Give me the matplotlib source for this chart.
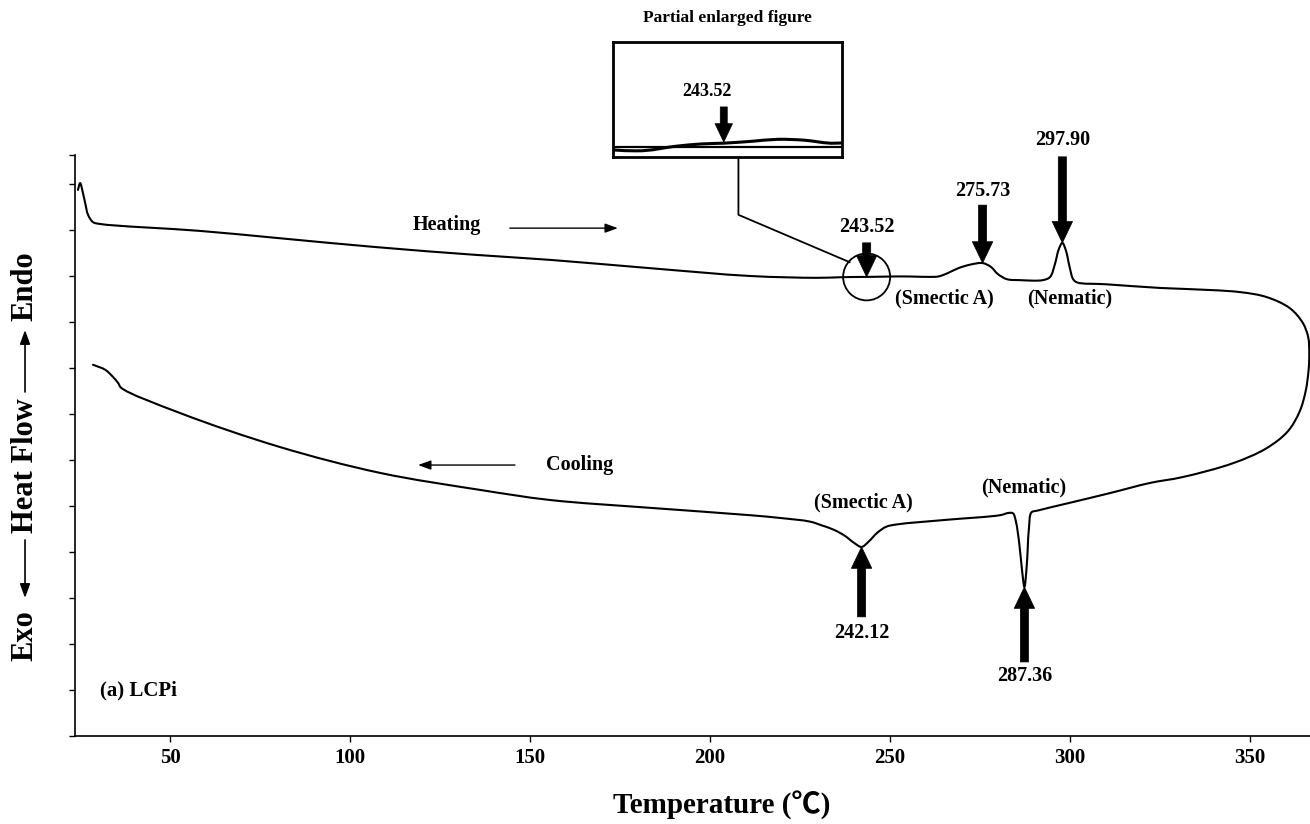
import numpy as np
import matplotlib
matplotlib.use("Agg")
import matplotlib.pyplot as plt
from matplotlib.patches import Ellipse, PathPatch
from matplotlib.path import Path

plt.rcParams['font.family'] = ['Liberation Serif', 'Noto Sans CJK SC', 'DejaVu Serif']
plt.rcParams['font.weight'] = 'bold'

# ---- DSC trace of LCPi (temperature in degC, heat flow in arbitrary units) ----
heat_T = [24.4, 25.0, 25.8, 26.4, 27.2, 28.6, 30.6, 58.3, 79.2, 106.9, 134.7,
          155.6, 183.3, 211.1, 229.7, 236.0, 240.0, 243.52, 248.0, 252.0, 256.0,
          261.0, 263.5, 266.0, 269.0, 272.5, 275.73, 278.0, 280.0, 282.5, 286.0,
          292.5, 294.5, 295.8, 296.9, 297.9, 298.9, 299.9, 300.9, 302.0, 310.0,
          325.0, 331.4, 347.2, 354.7, 361.1, 364.7, 366.2, 366.5]
heat_hf = [11.87, 12.02, 11.80, 11.59, 11.33, 11.17, 11.13, 10.98, 10.83, 10.63, 10.46,
           10.35, 10.17, 10.00, 9.96, 9.972, 9.978, 9.980, 9.985, 9.990, 9.988,
           9.98, 9.99, 10.06, 10.17, 10.25, 10.28, 10.20, 10.04, 9.93, 9.91,
           9.91, 9.98, 10.25, 10.58, 10.72, 10.55, 10.20, 9.93, 9.86, 9.82,
           9.74, 9.72, 9.65, 9.54, 9.30, 8.98, 8.67, 8.33]

cool_T = [366.5, 366.3, 365.5, 363.8, 360.5, 354.5, 345.3, 331.4, 322.2, 311.1,
          300.0, 291.0, 289.3, 288.6, 288.0, 287.36, 286.7, 285.9, 285.0, 284.2,
          283.0, 280.6, 265.8, 252.0, 249.0, 246.5, 244.0, 242.12, 240.0, 237.5,
          234.5, 231.0, 227.8, 219.4, 211.1, 183.3, 155.6, 136.1, 108.3, 80.6,
          52.8, 36.4, 35.6, 34.2, 32.0, 28.6]
cool_hf = [8.33, 7.95, 7.50, 7.05, 6.62, 6.25, 5.93, 5.63, 5.50, 5.28,
           5.07, 4.90, 4.86, 4.50, 3.70, 3.24, 3.60, 4.20, 4.66, 4.84,
           4.85, 4.80, 4.70, 4.60, 4.55, 4.42, 4.22, 4.11, 4.20, 4.35,
           4.48, 4.58, 4.66, 4.74, 4.80, 4.96, 5.13, 5.35, 5.72, 6.28,
           7.02, 7.57, 7.67, 7.80, 7.96, 8.07]

x_ticks = [50, 100, 150, 200, 250, 300, 350]
x_tick_labels = ['50', '100', '150', '200', '250', '300', '350']

# transition peaks: (temperature, label)
heat_peaks = [243.52, 275.73, 297.90]
heat_peak_labels = ['243.52', '275.73', '297.90']
cool_peaks = [242.12, 287.36]
cool_peak_labels = ['242.12', '287.36']


def hf_at(T_list, hf_list, t):
    for i, v in enumerate(T_list):
        if v == t:
            return hf_list[i]
    return np.interp(t, T_list, hf_list)


def smooth_path(xs, ys, sx=3.6, sy=46.0, alpha=0.5):
    """Centripetal Catmull-Rom curve through the points, as cubic Bezier segments."""
    P = np.column_stack([np.asarray(xs, float) * sx, np.asarray(ys, float) * sy])
    n = len(P)
    verts = [P[0]]
    codes = [Path.MOVETO]
    for i in range(n - 1):
        p0 = P[i - 1] if i > 0 else P[i]
        p1, p2 = P[i], P[i + 1]
        p3 = P[i + 2] if i + 2 < n else P[i + 1]
        d1 = np.linalg.norm(p1 - p0) ** alpha
        d2 = np.linalg.norm(p2 - p1) ** alpha
        d3 = np.linalg.norm(p3 - p2) ** alpha
        if d1 < 1e-9:
            b1 = p1 + (p2 - p1) / 3.0
        else:
            b1 = (d1 ** 2 * p2 - d2 ** 2 * p0 + (2 * d1 ** 2 + 3 * d1 * d2 + d2 ** 2) * p1) / (3 * d1 * (d1 + d2))
        if d3 < 1e-9:
            b2 = p2 - (p2 - p1) / 3.0
        else:
            b2 = (d3 ** 2 * p1 - d2 ** 2 * p3 + (2 * d3 ** 2 + 3 * d3 * d2 + d2 ** 2) * p2) / (3 * d3 * (d3 + d2))
        verts += [b1, b2, p2]
        codes += [Path.CURVE4] * 3
    V = np.array(verts)
    V[:, 0] /= sx
    V[:, 1] /= sy
    return Path(V, codes)


def draw_trace(axis, xs, ys, lw):
    axis.add_patch(PathPatch(smooth_path(xs, ys), fill=False, ec='black', lw=lw,
                             capstyle='round', joinstyle='round', zorder=3))


fig = plt.figure(figsize=(13.1, 8.24), dpi=100)
ax = fig.add_axes([0.0573, 0.1068, 0.9427, 0.7051])

# heating and cooling scans joined at the top temperature
draw_trace(ax, heat_T + cool_T[1:], heat_hf + cool_hf[1:], 1.5)

ax.set_xlim(23.6, 366.7)
ax.set_ylim(0, 12.63)
ax.set_xticks(x_ticks)
ax.set_xticklabels(x_tick_labels, fontsize=15, fontweight='bold')
ax.set_yticks(list(np.arange(13)) + [12.63])
ax.set_yticklabels([])
for s in ('top', 'right'):
    ax.spines[s].set_visible(False)
for s in ('left', 'bottom'):
    ax.spines[s].set_linewidth(1.2)
ax.tick_params(direction='out', length=4, width=1, pad=5)

fat = 'simple,head_width=1.05,head_length=1.1,tail_width=0.42'


def fat_arrow(axis, x, y_tail, y_tip, ms=14):
    axis.annotate('', xy=(x, y_tip), xytext=(x, y_tail),
                  arrowprops=dict(arrowstyle=fat, fc='black', ec='black', lw=0.5,
                                  shrinkA=0, shrinkB=0, mutation_scale=ms),
                  annotation_clip=False, zorder=5)


# heating transitions
heat_tails = [10.72, 11.54, 12.59]
heat_label_y = [11.07, 11.85, 12.96]
for t, lab, yt, yl in zip(heat_peaks, heat_peak_labels, heat_tails, heat_label_y):
    fat_arrow(ax, t, yt, hf_at(heat_T, heat_hf, t))
    ax.text(t, yl, lab, ha='center', va='center', fontsize=14.5, clip_on=False)

# cooling transitions
cool_tails = [2.59, 1.61]
cool_label_y = [2.24, 1.30]
for t, lab, yt, yl in zip(cool_peaks, cool_peak_labels, cool_tails, cool_label_y):
    fat_arrow(ax, t, yt, hf_at(cool_T, cool_hf, t))
    ax.text(t, yl, lab, ha='center', va='center', fontsize=14.5)

# phase names
ax.text(265.2, 9.52, '(Smectic A)', ha='center', va='center', fontsize=14.5)
ax.text(299.8, 9.52, '(Nematic)', ha='center', va='center', fontsize=14.5)
ax.text(242.7, 5.07, '(Smectic A)', ha='center', va='center', fontsize=14.5)
ax.text(287.1, 5.41, '(Nematic)', ha='center', va='center', fontsize=14.5)

# direction of scan
thin = '-|>,head_length=0.55,head_width=0.2'
ax.text(126.9, 11.11, 'Heating', ha='center', va='center', fontsize=14.5)
ax.annotate('', xy=(174.4, 11.04), xytext=(144.4, 11.04),
            arrowprops=dict(arrowstyle=thin, color='black', lw=1.0,
                            shrinkA=0, shrinkB=0, mutation_scale=14))
ax.text(163.9, 5.89, 'Cooling', ha='center', va='center', fontsize=14.5)
ax.annotate('', xy=(118.9, 5.89), xytext=(145.8, 5.89),
            arrowprops=dict(arrowstyle=thin, color='black', lw=1.0,
                            shrinkA=0, shrinkB=0, mutation_scale=14))

ax.text(30.6, 1.0, '(a) LCPi', ha='left', va='center', fontsize=15)

# circled region and leader to the enlarged view
c_y = hf_at(heat_T, heat_hf, heat_peaks[0])
ax.add_patch(Ellipse((heat_peaks[0], c_y), width=13.06, height=1.02,
                     fill=False, ec='black', lw=1.3, zorder=4))
ax.plot([207.9, 207.9, 238.8], [12.59, 11.33, 10.30], color='black', lw=1.3,
        clip_on=False, zorder=4)

# enlarged view
ins = fig.add_axes([0.4679, 0.8095, 0.1748, 0.1396])
draw_trace(ins, heat_T, heat_hf, 2.2)
ins.set_xlim(226.1, 262.1)
R = 0.30
ins.set_ylim(9.98 - 0.12 * R, 9.98 + 0.88 * R)
ins.axhline(9.98 - 0.03 * R, color='black', lw=1.6)
ins.set_xticks([])
ins.set_yticks([])
for s in ins.spines.values():
    s.set_linewidth(2.0)
y0, y1 = ins.get_ylim()
fat_arrow(ins, heat_peaks[0], y0 + 0.435 * (y1 - y0), y0 + 0.13 * (y1 - y0), ms=12)
ins.text(heat_peaks[0] - 2.6, y0 + 0.565 * (y1 - y0), heat_peak_labels[0],
         ha='center', va='center', fontsize=13)

fig.text(0.555, 0.978, 'Partial enlarged figure', ha='center', va='center', fontsize=12.5)

# axis titles
fig.text(0.551, 0.023, 'Temperature (℃)', ha='center', va='center', fontsize=21)

yl_kw = dict(rotation=90, ha='center', va='center', fontsize=22)
fig.text(0.0191, 0.6529, 'Endo', **yl_kw)
fig.text(0.0191, 0.4345, 'Heat Flow', **yl_kw)
fig.text(0.0191, 0.2282, 'Exo', **yl_kw)
for tail, tip in [((0.0191, 0.5243), (0.0191, 0.5995)),
                  ((0.0191, 0.3447), (0.0191, 0.2743))]:
    ax.annotate('', xy=tip, xytext=tail, xycoords='figure fraction',
                textcoords='figure fraction',
                arrowprops=dict(arrowstyle='-|>,head_length=0.6,head_width=0.22',
                                color='black', lw=1.2, shrinkA=0, shrinkB=0,
                                mutation_scale=14),
                annotation_clip=False)

fig.savefig('out.png', dpi=100)
